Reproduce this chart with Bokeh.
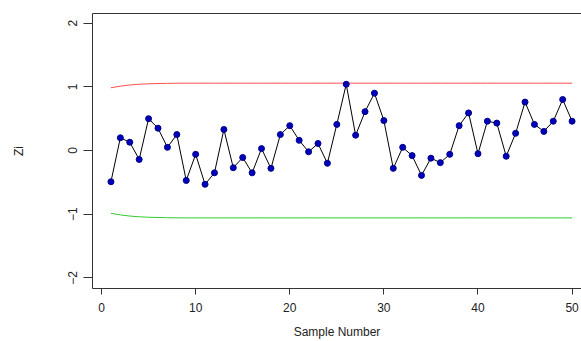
from bokeh.plotting import figure
from bokeh.models import Range1d, LinearAxis, FixedTicker, ColumnDataSource
from bokeh.embed import file_html
from bokeh.resources import INLINE

sample = list(range(1, 51))
zi = [-0.49, 0.20, 0.13, -0.14, 0.50, 0.35, 0.05, 0.25, -0.47, -0.06,
      -0.53, -0.35, 0.33, -0.27, -0.11, -0.35, 0.03, -0.28, 0.25, 0.39,
      0.16, -0.02, 0.11, -0.20, 0.41, 1.04, 0.24, 0.61, 0.90, 0.47,
      -0.28, 0.05, -0.08, -0.39, -0.12, -0.19, -0.06, 0.39, 0.59, -0.05,
      0.46, 0.43, -0.09, 0.27, 0.76, 0.41, 0.30, 0.46, 0.80, 0.46]
ucl = [0.985, 1.010, 1.028, 1.040, 1.047, 1.051, 1.054, 1.056, 1.057, 1.057,
       1.057, 1.057, 1.057, 1.057, 1.057, 1.057, 1.057, 1.057, 1.057, 1.057,
       1.057, 1.057, 1.057, 1.057, 1.057, 1.057, 1.057, 1.057, 1.057, 1.057,
       1.057, 1.057, 1.057, 1.057, 1.057, 1.057, 1.057, 1.057, 1.057, 1.057,
       1.057, 1.057, 1.057, 1.057, 1.057, 1.057, 1.057, 1.057, 1.057, 1.057]
lcl = [-v for v in ucl]
x_ticks = [0, 10, 20, 30, 40, 50]
y_ticks = [-2, -1, 0, 1, 2]

src = ColumnDataSource(dict(x=sample, z=zi, ucl=ucl, lcl=lcl))

p = figure(width=581, height=341, output_backend="svg", toolbar_location=None,
           x_range=Range1d(-0.96, 51.0), y_range=Range1d(-2.165, 2.15),
           min_border_left=92, min_border_right=0, min_border_top=13,
           min_border_bottom=53, x_axis_label="Sample Number", y_axis_label="Zi")
p.outline_line_color = None
p.grid.visible = False
p.background_fill_color = "white"

p.line("x", "ucl", source=src, line_color="#FF5050", line_width=1)
p.line("x", "lcl", source=src, line_color="#30CC30", line_width=1)
p.line("x", "z", source=src, line_color="black", line_width=1)
p.scatter("x", "z", source=src, size=6, fill_color="#0000BB", line_color="#000088")

font = "Liberation Sans"
for ax in p.xaxis:
    ax.ticker = FixedTicker(ticks=x_ticks)
    ax.minor_tick_line_color = None
    ax.major_tick_in = 0
    ax.major_tick_out = 6
    ax.major_label_standoff = 8
    ax.axis_label_standoff = 10
    ax.major_label_text_font = font
    ax.major_label_text_font_size = "12px"
    ax.major_label_text_color = "#222222"
    ax.axis_label_text_font = font
    ax.axis_label_text_font_style = "normal"
    ax.axis_label_text_font_size = "12px"
    ax.axis_label_text_color = "#222222"
    ax.axis_line_color = "#333333"
    ax.major_tick_line_color = "#333333"

for ax in p.yaxis:
    ax.ticker = FixedTicker(ticks=y_ticks)
    ax.minor_tick_line_color = None
    ax.major_tick_in = 0
    ax.major_tick_out = 9
    ax.major_label_standoff = 6
    ax.major_label_orientation = "vertical"
    ax.axis_label_standoff = 40
    ax.major_label_text_font = font
    ax.major_label_text_font_size = "12px"
    ax.major_label_text_color = "#222222"
    ax.axis_label_text_font = font
    ax.axis_label_text_font_style = "normal"
    ax.axis_label_text_font_size = "12px"
    ax.axis_label_text_color = "#222222"
    ax.axis_line_color = "#333333"
    ax.major_tick_line_color = "#333333"

top = LinearAxis(major_label_text_font_size="0px", major_tick_line_color=None,
                 minor_tick_line_color=None, axis_line_color="#333333",
                 ticker=FixedTicker(ticks=[]))
p.add_layout(top, "above")

open("out.html", "w").write(file_html(p, INLINE))
